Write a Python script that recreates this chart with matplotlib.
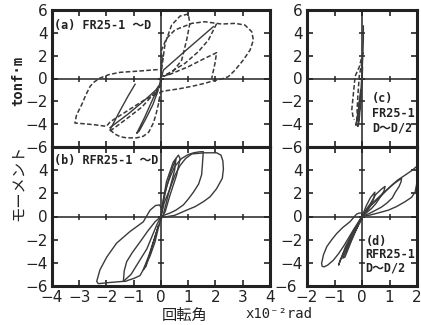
import matplotlib
matplotlib.use('Agg')
import matplotlib.pyplot as plt

# rotation angle (x10^-2 rad) vs moment (tonf.m)

# (a) FR25-1 ~D : dashed loops
a1_x = [0.0, 0.02, 0.2, 0.51, 1.13, 1.61, 2.04, 2.23, 2.72, 3.08, 3.33, 3.39, 3.27, 3.02,
        2.72, 2.47, 2.23, 1.92, 1.61, 1.2, 0.76, 0.4, 0.09]
a1_y = [0.0, 2.5, 3.5, 4.25, 4.83, 4.97, 4.83, 4.77, 4.83, 4.68, 4.1, 3.37, 2.5, 1.62,
        0.74, 0.16, -0.04, -0.2, -0.42, -0.65, -0.86, -1.0, -1.1]
a2_x = [2.04, 1.74, 1.37, 0.88, 0.27, 0.05]
a2_y = [4.8, 3.37, 2.35, 1.33, 0.45, 0.2]
a3_x = [0.05, 0.27, 1.0, 1.61, 2.04, 1.98, 1.86]
a3_y = [0.2, 0.31, 1.03, 1.77, 2.26, 1.33, 0.0]
a4_x = [0.0, 0.02, 0.15, 0.39, 0.7, 1.0, 1.06, 0.94, 0.76, 0.39, 0.1]
a4_y = [0.2, 0.74, 3.08, 4.68, 5.47, 5.65, 4.83, 3.37, 1.62, 0.45, 0.2]
a5_x = [0.09, -0.2, -0.59, -1.26, -1.87, -2.0, -2.48, -2.9, -3.16, -3.1, -2.91, -2.75,
        -2.6, -2.45, -2.24, -1.9, -1.5, -1.0, -0.65, -0.3, 0.0]
a5_y = [-1.1, -1.4, -1.85, -2.87, -3.8, -4.19, -4.04, -3.95, -3.9, -3.2, -2.29, -1.4,
        -0.68, -0.3, 0.04, 0.35, 0.54, 0.62, 0.68, 0.75, 0.8]
a6_x = [-1.87, -1.7, -1.5, -1.26, -0.9, -0.65, -0.45, -0.28, -0.18, -0.1, 0.0]
a6_y = [-4.5, -4.85, -5.1, -5.2, -5.2, -5.06, -4.7, -3.9, -3.1, -2.3, -1.0]
a7_x = [-1.87, -1.3, -0.7, -0.25, 0.0]
a7_y = [-4.6, -3.6, -2.5, -1.3, -0.3]
# (a) solid parts
as1_x = [0.0, 0.09, 1.0, 1.92]
as1_y = [0.0, 0.74, 2.64, 4.54]
as2_x = [-0.05, 0.0, 0.05]
as2_y = [-0.8, 0.5, 1.8]
as3_x = [-1.87, -1.5, -1.2, -0.95]
as3_y = [-4.5, -2.8, -1.5, -0.5]
as4_x = [-0.05, -0.3, -0.6, -0.89, -0.8, -0.55, -0.3, -0.1]
as4_y = [-0.5, -1.8, -3.4, -4.8, -4.6, -3.5, -2.3, -1.0]
as5_x = [0.0, -0.6, -1.2, -1.87]
as5_y = [-0.6, -1.9, -3.1, -4.3]

# (b) RFR25-1 ~D
b1_x = [0.0, 0.12, 0.33, 0.5, 0.7, 0.9, 1.13, 1.6, 2.04, 2.2, 2.27, 2.29, 2.25, 2.04,
        1.8, 1.55, 1.25, 0.94, 0.7, 0.5, 0.25, 0.0]
b1_y = [0.0, 1.2, 2.4, 3.5, 4.4, 5.0, 5.4, 5.5, 5.5, 5.3, 4.8, 4.1, 3.3, 2.4,
        1.7, 1.27, 0.85, 0.55, 0.3, 0.1, 0.0, -0.1]
b2_x = [0.0, 0.1, 0.2, 0.35, 0.5, 0.75, 1.0, 1.2, 1.4, 1.55, 1.54, 1.52, 1.49, 1.38,
        1.19, 1.0, 0.82, 0.55, 0.33, 0.1, 0.0]
b2_y = [0.0, 1.6, 2.6, 3.5, 4.3, 5.0, 5.35, 5.5, 5.58, 5.6, 5.2, 4.5, 3.6, 2.8,
        2.1, 1.5, 1.0, 0.55, 0.3, 0.1, 0.0]
b3_x = [0.0, 0.03, 0.2, 0.45, 0.64, 0.7, 0.57, 0.33, 0.15, 0.0]
b3_y = [-0.3, 0.7, 3.0, 4.7, 5.3, 5.0, 3.56, 1.84, 0.4, -0.2]
b4_x = [0.0, 0.15, 0.35, 0.55, 0.5, 0.3, 0.1]
b4_y = [0.0, 2.0, 3.8, 5.0, 4.0, 2.2, 0.3]
b5_x = [0.05, -0.05, -0.2, -0.4, -0.65, -1.14, -1.63, -1.99, -2.24, -2.36, -2.3, -1.9,
        -1.38, -1.1, -0.89, -0.52, -0.16, 0.0]
b5_y = [0.5, 1.0, 0.95, 0.55, -0.46, -1.3, -2.3, -3.5, -4.6, -5.6, -5.8, -5.7,
        -5.6, -5.0, -4.2, -2.8, -0.75, 0.0]
b6_x = [0.0, -0.22, -0.5, -0.77, -1.05, -1.26, -1.35, -1.38, -1.3, -1.2, -1.0, -0.77,
        -0.58, -0.4, -0.22, -0.1, 0.0]
b6_y = [0.0, -0.46, -1.3, -2.2, -3.1, -3.9, -4.7, -5.6, -5.6, -5.5, -5.35, -5.1,
        -4.3, -3.4, -2.2, -1.0, -0.2]
b7_x = [0.0, -0.2, -0.45, -0.65, -0.55, -0.35, -0.1]
b7_y = [-0.2, -1.6, -3.4, -4.6, -4.3, -2.8, -0.8]

# (c) FR25-1 D~D/2
c1_x = [0.05, 0.0, -0.1, -0.25, -0.31, -0.37, -0.33, -0.28]
c1_y = [2.3, 1.96, 1.0, 0.2, -1.25, -2.7, -3.3, -3.6]
c2_x = [0.0, -0.1, -0.15, -0.18, -0.15, -0.1]
c2_y = [1.5, 0.2, -1.5, -2.8, -3.8, -4.0]
cs1_x = [0.05, 0.05, 0.03, 0.0, -0.05, -0.1, -0.15, -0.1, -0.05, 0.0, 0.02]
cs1_y = [4.6, 3.5, 2.0, 0.5, -1.5, -3.0, -4.2, -3.6, -2.0, -0.5, 1.0]
cs2_x = [-0.05, -0.12, -0.2, -0.22, -0.15, -0.08]
cs2_y = [-1.0, -2.5, -3.8, -4.1, -3.2, -1.8]

# (d) RFR25-1 D~D/2
d1_x = [0.0, 0.15, 0.3, 0.6, 0.85, 1.08, 1.3, 1.56, 1.8, 1.98, 2.05, 2.04, 1.98, 1.93,
        1.8, 1.56, 1.25, 0.96, 0.7, 0.5, 0.25, 0.0]
d1_y = [0.0, 0.5, 0.9, 1.55, 2.15, 2.7, 3.15, 3.56, 3.95, 4.3, 3.9, 3.3, 2.7, 2.1,
        1.65, 1.27, 0.85, 0.55, 0.38, 0.25, 0.1, 0.0]
d2_x = [0.0, 0.2, 0.4, 0.6, 0.8, 1.0, 1.2, 1.35, 1.44, 1.42, 1.35, 1.2, 1.1, 0.9,
        0.7, 0.5, 0.3, 0.0]
d2_y = [0.0, 0.6, 1.2, 1.65, 2.1, 2.5, 2.9, 3.15, 3.3, 3.0, 2.6, 2.05, 1.6, 1.15,
        0.8, 0.55, 0.3, 0.0]
d3_x = [0.0, 0.15, 0.3, 0.5, 0.7, 0.84, 0.8, 0.7, 0.5, 0.35, 0.2, 0.0]
d3_y = [0.0, 0.6, 1.1, 1.9, 2.35, 2.6, 2.2, 1.8, 1.1, 0.7, 0.4, 0.0]
d4_x = [0.0, 0.15, 0.3, 0.4, 0.47, 0.42, 0.35, 0.25, 0.05]
d4_y = [0.0, 0.9, 1.6, 1.9, 2.1, 1.5, 1.1, 0.7, 0.1]
d5_x = [0.05, -0.1, -0.2, -0.44, -0.7, -0.92, -1.1, -1.28, -1.4, -1.47, -1.45, -1.38,
        -1.25, -1.04, -0.85, -0.68, -0.5, -0.32, -0.15, 0.0]
d5_y = [0.3, 0.3, 0.2, -0.46, -0.95, -1.47, -2.0, -2.6, -3.3, -4.05, -4.3, -4.35,
        -4.2, -3.77, -3.2, -2.6, -1.9, -1.18, -0.55, 0.0]
d6_x = [0.0, -0.3, -0.6, -0.85, -0.8, -0.55, -0.3, 0.0]
d6_y = [0.0, -1.2, -2.6, -4.2, -3.8, -2.6, -1.3, 0.0]
d7_x = [0.0, -0.25, -0.5, -0.7, -0.62, -0.4, -0.15]
d7_y = [-0.2, -1.3, -2.5, -3.6, -3.5, -2.2, -0.8]

x_ticks_left = [-4, -3, -2, -1, 0, 1, 2, 3, 4]
x_ticks_right = [-2, -1, 0, 1, 2]
y_ticks = [-6, -4, -2, 0, 2, 4, 6]

ink = '#3a3a3a'
frame = '#222222'
mono = ['DejaVu Sans Mono', 'Noto Sans CJK JP']

W, H = 421, 325
fig = plt.figure(figsize=(W / 100, H / 100), dpi=100)
ax_a = fig.add_axes([52 / W, 1 - 147 / H, 218 / W, 137 / H])
ax_b = fig.add_axes([52 / W, 1 - 286 / H, 218 / W, 139 / H])
ax_c = fig.add_axes([307 / W, 1 - 147 / H, 110 / W, 137 / H])
ax_d = fig.add_axes([307 / W, 1 - 286 / H, 110 / W, 139 / H])


def fmt(v):
    return str(v).replace('-', '\u2212')


def style(ax, xticks, bottom, skip_low=False):
    ax.set_xlim(xticks[0], xticks[-1])
    ax.set_ylim(-6, 6)
    ax.set_xticks(xticks)
    ax.set_yticks(y_ticks)
    ax.tick_params(direction='in', top=True, right=True, length=4, width=1.2,
                   labelsize=11, pad=3, colors=frame)
    if bottom:
        labels = [fmt(v) for v in y_ticks[:-1]] + ['']
        if skip_low:
            labels[0] = ''
        ax.set_yticklabels(labels)
        ax.set_xticklabels([fmt(v) for v in xticks])
    else:
        ax.tick_params(labelbottom=False)
    for s in ax.spines.values():
        s.set_linewidth(2.2)
        s.set_color(frame)
    ax.axhline(0, color=frame, lw=1.1)
    ax.axvline(0, color=frame, lw=1.1)
    # small ticks along the zero lines
    ax.plot(xticks, [0] * len(xticks), '|', color=frame, ms=5, mew=1.1)
    ax.plot([0] * len(y_ticks), y_ticks, '_', color=frame, ms=5, mew=1.1)


style(ax_a, x_ticks_left, False)
style(ax_b, x_ticks_left, True)
style(ax_c, x_ticks_right, False)
style(ax_d, x_ticks_right, True, skip_low=True)

dash = dict(color=ink, lw=1.1, ls=(0, (3, 1.5)))
solid = dict(color=ink, lw=1.0)

for x, y in [(a1_x, a1_y), (a2_x, a2_y), (a3_x, a3_y), (a4_x, a4_y),
             (a5_x, a5_y), (a6_x, a6_y), (a7_x, a7_y)]:
    ax_a.plot(x, y, **dash)
for x, y in [(as1_x, as1_y), (as2_x, as2_y), (as3_x, as3_y), (as4_x, as4_y), (as5_x, as5_y)]:
    ax_a.plot(x, y, **solid)

for x, y in [(b1_x, b1_y), (b2_x, b2_y), (b3_x, b3_y), (b4_x, b4_y),
             (b5_x, b5_y), (b6_x, b6_y), (b7_x, b7_y)]:
    ax_b.plot(x, y, **solid)

for x, y in [(c1_x, c1_y), (c2_x, c2_y)]:
    ax_c.plot(x, y, **dash)
for x, y in [(cs1_x, cs1_y), (cs2_x, cs2_y)]:
    ax_c.plot(x, y, **solid)

for x, y in [(d1_x, d1_y), (d2_x, d2_y), (d3_x, d3_y), (d4_x, d4_y),
             (d5_x, d5_y), (d6_x, d6_y), (d7_x, d7_y)]:
    ax_d.plot(x, y, **solid)

# panel labels
ax_a.text(0.01, 0.89, '(a) FR25-1 \u301cD', transform=ax_a.transAxes, family=mono,
          fontsize=8.5, fontweight='bold', color=frame, va='center')
ax_b.text(0.01, 0.905, '(b) RFR25-1 \u301cD', transform=ax_b.transAxes, family=mono,
          fontsize=8.5, fontweight='bold', color=frame, va='center')
ax_c.text(0.59, 0.40, '(c)\nFR25-1\nD\u301cD/2', transform=ax_c.transAxes, family=mono,
          fontsize=8.5, fontweight='bold', color=frame, va='top', linespacing=1.15)
ax_d.text(0.53, 0.37, '(d)\nRFR25-1\nD\u301cD/2', transform=ax_d.transAxes, family=mono,
          fontsize=8.5, fontweight='bold', color=frame, va='top', linespacing=1.05)

# lowest y label of (d), nudged up-left so it clears the x labels as in the scan
fig.text(297 / W, 1 - 288 / H, fmt(y_ticks[0]), ha='right', va='center',
         fontsize=11, color=frame)

# axis titles
fig.text(18 / W, 1 - 81 / H, 'tonf\u00b7m', rotation=90, ha='center', va='center',
         family=mono, fontsize=10, fontweight='bold', color=frame)
fig.text(18 / W, 1 - 183 / H, 'モーメント', rotation=90, ha='center', va='center',
         family=['Noto Sans CJK JP'], fontsize=11, color=frame)
fig.text(185 / W, 1 - 315 / H, '回転角', ha='center', va='center',
         family=['Noto Sans CJK JP'], fontsize=11, color=frame)
fig.text(245 / W, 1 - 314 / H, 'x10\u207b\u00b2rad', ha='left', va='center',
         family=['DejaVu Sans Mono', 'DejaVu Sans'], fontsize=10, color=frame)

fig.savefig('out.png', dpi=100)
